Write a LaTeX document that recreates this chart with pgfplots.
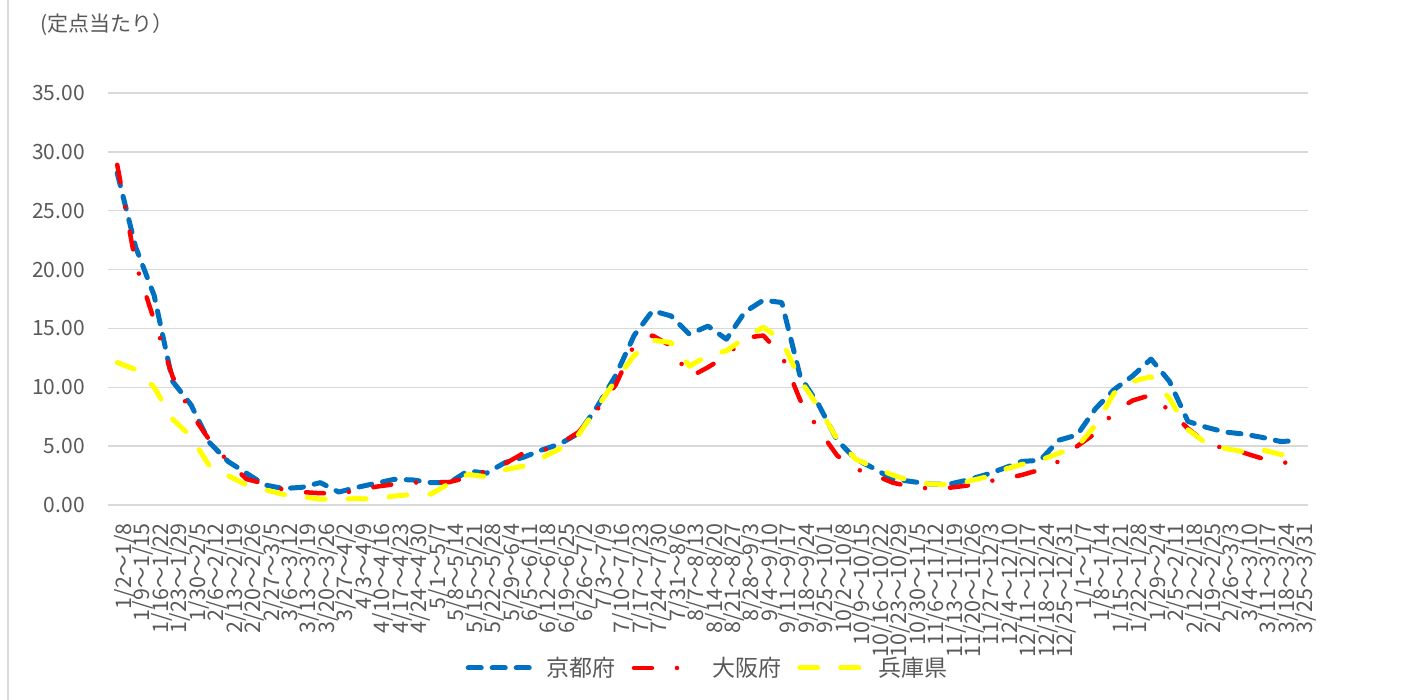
\documentclass[border=0pt]{standalone}
\usepackage{fontspec}
\setmainfont{Noto Sans CJK JP}
\usepackage{pgfplots}
\usepackage{pgfplotstable}
\pgfplotsset{compat=1.18}
\definecolor{kyoto}{HTML}{0070C0}
\definecolor{osaka}{HTML}{FF0000}
\definecolor{hyogo}{HTML}{FFFF00}
\definecolor{gridc}{HTML}{D9D9D9}
\definecolor{txt}{HTML}{595959}

\pgfplotstableread{
i k o h
0 28.2 28.9 12.1
1 21.9 20.5 11.5
2 17.8 15.7 10.0
3 10.5 10.9 7.3
4 8.5 7.8 5.8
5 5.3 5.5 3.3
6 3.7 3.7 2.5
7 2.7 2.2 1.7
8 1.7 1.8 1.3
9 1.4 1.3 0.9
10 1.5 1.1 0.7
11 1.9 1.0 0.5
12 1.1 1.0 0.5
13 1.5 1.2 0.54
14 1.84 1.55 0.5
15 2.18 1.76 0.76
16 2.13 1.9 0.9
17 1.9 1.95 0.93
18 1.9 1.95 1.84
19 2.9 2.35 2.6
20 2.7 2.9 2.4
21 3.6 3.5 3.0
22 4.05 4.4 3.3
23 4.67 4.6 4.0
24 5.2 5.2 4.8
25 6.1 6.2 6.0
26 8.35 8.1 8.3
27 11.0 10.2 10.6
28 14.4 13.6 12.7
29 16.5 14.4 14.0
30 16.06 13.5 13.8
31 14.5 10.85 11.8
32 15.2 11.7 12.7
33 14.08 12.66 13.1
34 16.4 14.2 14.2
35 17.4 14.4 15.1
36 17.2 12.7 14.0
37 10.9 8.9 10.6
38 8.5 6.4 8.3
39 5.5 4.2 5.6
40 3.9 3.06 3.9
41 3.1 2.55 3.2
42 2.2 1.9 2.55
43 2.0 1.55 2.04
44 1.78 1.4 1.78
45 1.75 1.45 1.74
46 2.1 1.64 1.98
47 2.55 1.98 2.35
48 3.1 2.2 3.0
49 3.7 2.55 3.45
50 3.8 3.0 3.8
51 5.5 3.7 4.4
52 5.95 5.0 4.95
53 8.2 6.1 6.8
54 9.8 7.9 9.5
55 10.96 8.87 10.5
56 12.4 9.35 10.9
57 10.5 8.0 9.06
58 7.1 6.5 6.4
59 6.6 5.24 5.24
60 6.2 4.8 4.8
61 6.03 4.45 4.53
62 5.75 3.96 4.7
63 5.4 3.6 4.3
64 5.45 3.6 4.2
}\data

\begin{document}
\begin{tikzpicture}
\path[use as bounding box] (0,0) rectangle (1402pt,700pt);
\draw[gridc, line width=1.5pt] (8pt,0) -- (8pt,700pt);
\node[anchor=west, text=txt, font=\fontsize{21}{24}\selectfont, inner sep=0pt] at (40pt,675pt) {(定点当たり）};
\begin{axis}[
 at={(108pt,195pt)}, anchor=south west,
 scale only axis, width=1200pt, height=412pt,
 xmin=-0.5, xmax=64.5, ymin=0, ymax=35,
 axis line style={draw=none},
 major tick length=0pt,
 ytick={0,5,...,35},
 ymajorgrids, grid style={gridc, line width=1.5pt},
 xtick={0,...,64},
 xticklabels={1/2～1/8, 1/9～1/15, 1/16～1/22, 1/23～1/29, 1/30～2/5, 2/6～2/12, 2/13～2/19, 2/20～2/26, 2/27～3/5, 3/6～3/12, 3/13～3/19, 3/20～3/26, 3/27～4/2, 4/3～4/9, 4/10～4/16, 4/17～4/23, 4/24～4/30, 5/1～5/7, 5/8～5/14, 5/15～5/21, 5/22～5/28, 5/29～6/4, 6/5～6/11, 6/12～6/18, 6/19～6/25, 6/26～7/2, 7/3～7/9, 7/10～7/16, 7/17～7/23, 7/24～7/30, 7/31～8/6, 8/7～8/13, 8/14～8/20, 8/21～8/27, 8/28～9/3, 9/4～9/10, 9/11～9/17, 9/18～9/24, 9/25～10/1, 10/2～10/8, 10/9～10/15, 10/16～10/22, 10/23～10/29, 10/30～11/5, 11/6～11/12, 11/13～11/19, 11/20～11/26, 11/27～12/3, 12/4～12/10, 12/11～12/17, 12/18～12/24, 12/25～12/31, 1/1～1/7, 1/8～1/14, 1/15～1/21, 1/22～1/28, 1/29～2/4, 2/5～2/11, 2/12～2/18, 2/19～2/25, 2/26～3/3, 3/4～3/10, 3/11～3/17, 3/18～3/24, 3/25～3/31},
 xticklabel style={rotate=90, anchor=east, text=txt, font=\fontsize{21.5}{21.5}\selectfont, inner sep=0pt, xshift=-18pt, yshift=-7.5pt},
 yticklabel style={text=txt, font=\fontsize{21}{24}\selectfont, inner sep=0pt, xshift=-23pt, anchor=east,
   /pgf/number format/.cd, fixed, fixed zerofill, precision=2, assume math mode=true},
 legend style={draw=none, fill=none, at={(0.4996,-0.3956)}, anchor=center,
   font=\fontsize{23}{26}\selectfont, text=txt,
   /tikz/every odd column/.append style={column sep=9pt},
   /tikz/every even column/.append style={column sep=14pt}},
 legend columns=3,
 legend image code/.code={\draw[#1] (0pt,0pt) -- (65pt,0pt);},
]
\addplot[kyoto, line width=5pt, line cap=round, line join=round, dash pattern=on 13pt off 11pt] table[x=i,y=k]{\data};
\addlegendentry{京都府}
\addplot[osaka, line width=4.5pt, line cap=round, line join=round, dash pattern=on 18pt off 25pt on 0pt off 25pt] table[x=i,y=o]{\data};
\addlegendentry{大阪府}
\addplot[hyogo, line width=5pt, line cap=round, line join=round, dash pattern=on 18pt off 23pt] table[x=i,y=h]{\data};
\addlegendentry{兵庫県}
\end{axis}
\end{tikzpicture}
\end{document}
